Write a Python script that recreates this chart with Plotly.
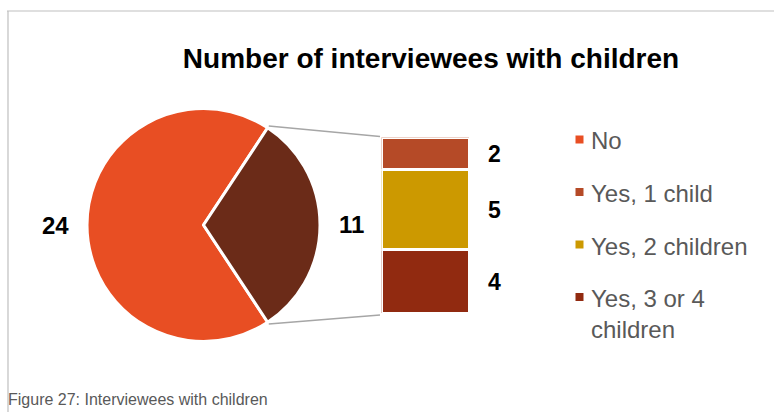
import numpy as np
import plotly.graph_objects as go

W, H = 774, 412

# Main pie: interviewees with / without children
pie_labels = ["No", "Yes"]
pie_values = [24, 11]
pie_colors = ["#E84E23", "#6B2B18"]

# Breakdown of the "Yes" wedge, top to bottom
bar_labels = ["Yes, 1 child", "Yes, 2 children", "Yes, 3 or 4 children"]
bar_values = [2, 5, 4]
bar_colors = ["#B54A27", "#CC9900", "#912A10"]

title_text = "Number of interviewees with children"
caption_text = "Figure 27: Interviewees with children"

FONT = "Liberation Sans, Arial, sans-serif"
GREY_TEXT = "#595959"


def px(x):
    return x / W


def py(y):
    return 1 - y / H


# pie geometry in pixels
cx, cy, r = 203.5, 225.0, 116.5
total = sum(pie_values)
yes_half = 180.0 * pie_values[1] / total
rotation = 90 + yes_half  # centres the "Yes" wedge on 3 o'clock

fig = go.Figure()
fig.add_trace(go.Pie(
    labels=pie_labels, values=pie_values, sort=False,
    direction="clockwise", rotation=rotation,
    marker=dict(colors=pie_colors, line=dict(color="white", width=3)),
    textinfo="none", hoverinfo="label+value", showlegend=False,
    domain=dict(x=[px(cx - r), px(cx + r)], y=[py(cy + r), py(cy - r)]),
))

# stacked bar of the "Yes" wedge (plotly stacks from the bottom up)
bx0, bx1 = 381.5, 469.5
by_top, by_bot = 137.5, 313.5
stack = list(zip(bar_labels, bar_values, bar_colors))[::-1]
for lab, val, col in stack:
    fig.add_trace(go.Bar(
        x=[0], y=[val], width=[1], name=lab, showlegend=False,
        marker=dict(color=col, line=dict(color="white", width=3)),
        hoverinfo="name+y",
    ))

annotations = []
shapes = []

# bar value labels
base = 0
for lab, val, col in stack:
    annotations.append(dict(
        x=px(494), xref="paper", y=base + val / 2, yref="y",
        text=f"<b>{val}</b>", showarrow=False, xanchor="center", yanchor="middle",
        font=dict(family=FONT, size=23, color="black"),
    ))
    base += val

# pie value labels, placed outside each wedge along its mid-angle
start = rotation
for val in pie_values:
    sweep = 360.0 * val / total
    mid = np.radians(start + sweep / 2)
    lx = cx + (r + 31) * np.sin(mid)
    ly = cy - (r + 31) * np.cos(mid)
    annotations.append(dict(
        x=px(lx), y=py(ly), xref="paper", yref="paper",
        text=f"<b>{val}</b>", showarrow=False, xanchor="center", yanchor="middle",
        font=dict(family=FONT, size=24, color="black"),
    ))
    start += sweep

# connector lines from the "Yes" wedge edges to the bar
yes_start = np.radians(rotation + 360.0 * pie_values[0] / total)  # upper edge
yes_end = np.radians(rotation + 360.0)                            # lower edge
for ang, ty in ((yes_start, by_top - 1), (yes_end, by_bot + 1.5)):
    sx = cx + (r + 2) * np.sin(ang)
    sy = cy - (r + 2) * np.cos(ang)
    shapes.append(dict(
        type="line", xref="paper", yref="paper",
        x0=px(sx), y0=py(sy), x1=px(bx0 - 1.5), y1=py(ty),
        line=dict(color="#A6A6A6", width=1.5),
    ))

# legend drawn by hand
legend_labels = [pie_labels[0]] + bar_labels
legend_colors = [pie_colors[0]] + bar_colors
legend_y = [139.5, 192, 244.5, 297]
for lab, col, ly in zip(legend_labels, legend_colors, legend_y):
    shapes.append(dict(
        type="rect", xref="paper", yref="paper",
        x0=px(575.5), x1=px(583.5), y0=py(ly + 4), y1=py(ly - 4),
        fillcolor=col, line=dict(width=0),
    ))
    text = lab.replace("3 or 4 ", "3 or 4<br>")
    annotations.append(dict(
        x=px(589), y=py(ly - 14), xref="paper", yref="paper",
        text=text, showarrow=False, xanchor="left", yanchor="top", align="left",
        font=dict(family=FONT, size=24, color=GREY_TEXT),
    ))

# caption
annotations.append(dict(
    x=px(6), y=py(399), xref="paper", yref="paper",
    text=caption_text, showarrow=False, xanchor="left", yanchor="middle",
    font=dict(family=FONT, size=16, color=GREY_TEXT),
))

# outer frame (top and left edges)
shapes.append(dict(type="line", xref="paper", yref="paper",
                   x0=px(7), y0=py(11), x1=1, y1=py(11),
                   line=dict(color="#BFBFBF", width=1.2)))
shapes.append(dict(type="line", xref="paper", yref="paper",
                   x0=px(8), y0=py(11), x1=px(8), y1=0,
                   line=dict(color="#BFBFBF", width=1.2)))

fig.update_layout(
    width=W, height=H,
    margin=dict(l=0, r=0, t=0, b=0),
    paper_bgcolor="white", plot_bgcolor="rgba(0,0,0,0)",
    barmode="stack", bargap=0,
    title=dict(text=f"<b>{title_text}</b>", x=px(431), xanchor="center",
               y=py(58), yanchor="middle", yref="paper",
               font=dict(family=FONT, size=28, color="black")),
    xaxis=dict(domain=[px(bx0), px(bx1)], range=[-0.5, 0.5], visible=False, fixedrange=True),
    yaxis=dict(domain=[py(by_bot), py(by_top)], range=[0, sum(bar_values)], visible=False, fixedrange=True),
    annotations=annotations,
    shapes=shapes,
    showlegend=False,
)

fig.write_html("out.html")
